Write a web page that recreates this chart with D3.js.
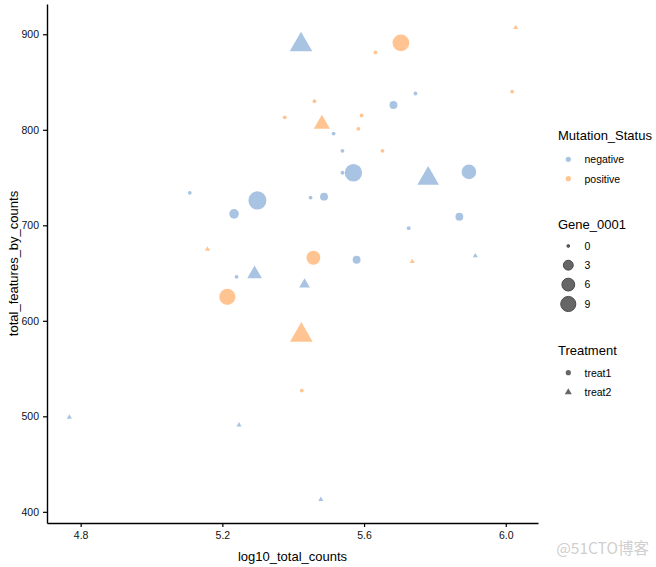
<!DOCTYPE html>
<html>
<head>
<meta charset="utf-8">
<script src="https://cdn.jsdelivr.net/npm/d3@7"></script>
<style>
  body { margin: 0; background: #fff; }
  text { font-family: "Liberation Sans", Arial, sans-serif; }
</style>
</head>
<body>
<svg id="chart" width="656" height="567"></svg>
<script>
// ---- data ----
const log10TotalCounts = [5.376, 5.108, 5.299, 5.233, 5.158, 5.422, 5.704, 5.632, 6.028, 6.018,
  5.745, 5.683, 5.460, 5.481, 5.593, 5.584, 5.514, 5.539, 5.652, 5.539,
  5.570, 5.781, 5.896, 5.449, 5.487, 5.869, 5.726, 5.457, 5.579, 5.736,
  5.914, 5.432, 5.423, 5.424, 5.478, 5.240, 5.291, 5.214, 4.768, 5.247];
const totalFeaturesByCounts = [813, 734, 726, 712, 675, 889, 891, 881, 907, 840,
  838, 826, 830, 806, 815, 801, 796, 778, 778, 755,
  755, 749, 756, 729, 730, 709, 697, 666, 664, 662,
  668, 638, 585, 527, 413, 646, 649, 625, 499, 491];
const mutationStatus = ["positive","negative","negative","negative","positive","negative","positive","positive","positive","positive",
  "negative","negative","positive","positive","positive","positive","negative","negative","positive","negative",
  "negative","negative","negative","negative","negative","negative","negative","positive","negative","positive",
  "negative","negative","positive","positive","negative","negative","negative","positive","negative","negative"];
const gene0001 = [0, 0, 12, 2, 0, 10, 10, 0, 0, 0,
  0, 1, 0, 4, 0, 0, 0, 0, 0, 0,
  11, 9, 7, 0, 1, 1, 0, 6, 1, 0,
  0, 1, 10, 0, 0, 0, 3, 9, 0, 0];
const treatment = ["treat1","treat1","treat1","treat1","treat2","treat2","treat1","treat1","treat2","treat1",
  "treat1","treat1","treat1","treat2","treat1","treat1","treat1","treat1","treat1","treat1",
  "treat1","treat2","treat1","treat1","treat1","treat1","treat1","treat1","treat1","treat2",
  "treat2","treat2","treat2","treat1","treat2","treat1","treat2","treat1","treat2","treat2"];

const xTicks = [4.8, 5.2, 5.6, 6.0];
const yTicks = [400, 500, 600, 700, 800, 900];
const statusLevels = ["negative", "positive"];
const geneBreaks = [0, 3, 6, 9];
const treatLevels = ["treat1", "treat2"];

// ---- layout ----
const svg = d3.select("#chart");
const panel = { left: 47, right: 538, top: 4, bottom: 523 };
const colors = { negative: "#a9c4e2", positive: "#ffc491" };
const keyGrey = "#666666";

function expand(ext, f) {
  const d = (ext[1] - ext[0]) * f;
  return [ext[0] - d, ext[1] + d];
}
const x = d3.scaleLinear().domain(expand(d3.extent(log10TotalCounts), 0.05)).range([panel.left, panel.right]);
const y = d3.scaleLinear().domain(expand(d3.extent(totalFeaturesByCounts), 0.05)).range([panel.bottom, panel.top]);
// ggplot-like area scale: size (mm) 1..6, diameter px = size*2.845 + 0.945
const sizeScale = d3.scaleSqrt().domain([0, d3.max(gene0001)]).range([1, 6]);
const radius = v => (sizeScale(v) * 2.845 + 0.945) / 2;
const symType = t => t === "treat1" ? d3.symbolCircle : d3.symbolTriangle;
const sym = (t, r) => d3.symbol().type(symType(t)).size(Math.PI * r * r)();

const points = log10TotalCounts.map((v, i) => ({
  x: v, y: totalFeaturesByCounts[i], s: mutationStatus[i], g: gene0001[i], t: treatment[i]
}));

// ---- points ----
svg.append("g").selectAll("path").data(points).join("path")
  .attr("transform", d => `translate(${x(d.x)},${y(d.y)})`)
  .attr("d", d => sym(d.t, radius(d.g)))
  .attr("fill", d => colors[d.s]);

// ---- axes ----
const xAxis = svg.append("g").attr("transform", `translate(0,${panel.bottom})`)
  .call(d3.axisBottom(x).tickValues(xTicks).tickFormat(d3.format(".1f")).tickSize(4).tickPadding(5).tickSizeOuter(0));
const yAxis = svg.append("g").attr("transform", `translate(${panel.left},0)`)
  .call(d3.axisLeft(y).tickValues(yTicks).tickFormat(d3.format("d")).tickSize(4).tickPadding(4).tickSizeOuter(0));
[xAxis, yAxis].forEach(a => {
  a.select(".domain").attr("stroke", "#000").attr("stroke-width", 1.4);
  a.selectAll(".tick line").attr("stroke", "#000").attr("stroke-width", 1.2);
  a.selectAll(".tick text").attr("fill", "#111").style("font-size", "10.5px")
    .style("font-family", "'Liberation Sans', Arial, sans-serif");
});

// axis titles
svg.append("text").attr("x", (panel.left + panel.right) / 2).attr("y", 561)
  .attr("text-anchor", "middle").style("font-size", "13px").attr("fill", "#000")
  .text("log10_total_counts");
svg.append("text").attr("transform", `translate(18,${(panel.top + panel.bottom) / 2}) rotate(-90)`)
  .attr("text-anchor", "middle").style("font-size", "13px").attr("fill", "#000")
  .text("total_features_by_counts");

// ---- legends ----
const lg = svg.append("g");
const keyX = 568.3, labX = 584.5;
function title(txt, yy) {
  lg.append("text").attr("x", 558).attr("y", yy + 4.5).style("font-size", "13px").attr("fill", "#000").text(txt);
}
function label(txt, yy) {
  lg.append("text").attr("x", labX).attr("y", yy + 3.8).style("font-size", "10.5px").attr("fill", "#000").text(txt);
}
// Mutation_Status
title("Mutation_Status", 135.7);
const statusY = [159.3, 178.7];
statusLevels.forEach((s, i) => {
  lg.append("path").attr("transform", `translate(${keyX},${statusY[i]})`)
    .attr("d", sym("treat1", 2.6)).attr("fill", colors[s]);
  label(s, statusY[i]);
});
// Gene_0001
title("Gene_0001", 224.3);
const geneY = [246, 265.2, 284.6, 304];
geneBreaks.forEach((g, i) => {
  const r = radius(g);
  lg.append("circle").attr("cx", keyX).attr("cy", geneY[i]).attr("r", Math.max(r - 0.5, 0.5))
    .attr("fill", keyGrey).attr("stroke", "#4a4a4a").attr("stroke-width", 1);
  label(String(g), geneY[i]);
});
// Treatment
title("Treatment", 350);
const treatY = [372.7, 392.3];
treatLevels.forEach((t, i) => {
  lg.append("path").attr("transform", `translate(${keyX},${treatY[i]})`)
    .attr("d", sym(t, 2.6)).attr("fill", keyGrey);
  label(t, treatY[i]);
});

// watermark
svg.append("text").attr("x", 649).attr("y", 554).attr("text-anchor", "end")
  .style("font-family", "'Noto Sans CJK SC', sans-serif").style("font-size", "15.5px")
  .attr("fill", "#cfcfcf").text("@51CTO博客");
</script>
</body>
</html>
